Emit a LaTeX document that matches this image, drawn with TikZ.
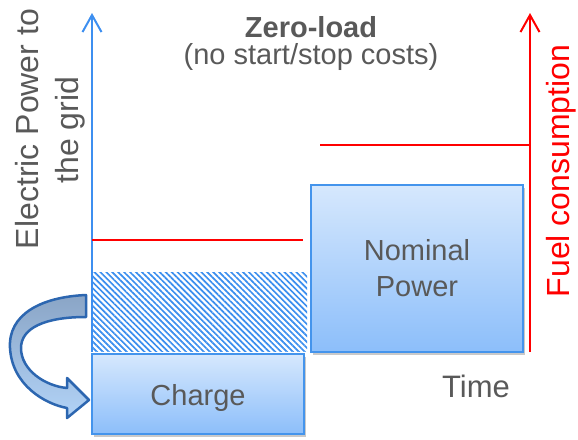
\documentclass[tikz,border=0pt]{standalone}
\usepackage{fontspec}
\setmainfont{Liberation Sans}
\usetikzlibrary{arrows.meta,patterns.meta,shadows}
\definecolor{axisblue}{HTML}{3D8FF0}
\definecolor{boxtop}{HTML}{D6E8FD}
\definecolor{boxbot}{HTML}{8CBEFA}
\definecolor{boxline}{HTML}{4494EC}
\definecolor{hatchblue}{HTML}{3B8EEE}
\definecolor{bendline}{HTML}{2C66B0}
\definecolor{bendtop}{HTML}{8AA5C6}
\definecolor{bendbot}{HTML}{B2D3F7}
\definecolor{labelgray}{HTML}{595959}
\definecolor{fuelred}{HTML}{FF0000}
\tikzset{
  axisline/.style={line width=2pt,-{Straight Barb[length=17pt,width=19pt,line width=2pt]}},
  levelline/.style={fuelred,line width=2pt},
  powerbox/.style={draw=boxline,line width=2pt,top color=boxtop,bottom color=boxbot,
    inner sep=0pt,align=center,text=labelgray,
    font=\fontsize{29}{36}\selectfont,
    drop shadow={shadow xshift=2pt,shadow yshift=-2.5pt,opacity=.3,fill=black!70}},
  bigtext/.style={text=labelgray,inner sep=0pt,font=\fontsize{#1}{#1}\selectfont},
  bigtext/.default=32
}
\begin{document}
\begin{tikzpicture}[x=1pt,y=-1pt]
\useasboundingbox (0,0) rectangle (578,439);

% axes
\coordinate (pbase) at (92,352);
\coordinate (ptop) at (92,13);
\coordinate (fbase) at (530,352);
\coordinate (ftop) at (530,13);
\draw[axisline,axisblue] (pbase) -- (ptop);
\draw[axisline,fuelred] (fbase) -- (ftop);

% fuel levels
\coordinate (lowA) at (92,240);
\coordinate (lowB) at (303,240);
\coordinate (highA) at (320,145);
\coordinate (highB) at (530,145);
\draw[levelline] (lowA) -- (lowB);
\draw[levelline] (highA) -- (highB);

% stored energy (hatched)
\fill[pattern={Lines[angle=-45,distance=4.2pt,line width=1.7pt]},pattern color=hatchblue]
  (93,272) rectangle (307,351);

% blocks
\node[powerbox,minimum width=212pt,minimum height=167pt] (nominal) at (417,268.5)
  {Nominal\\Power};
\node[powerbox,minimum width=212pt,minimum height=80pt,text height=25pt,text depth=3pt]
  (charge) at (198,394) {Charge};

% bent block arrow from the hatched area down to the charge block
\draw[bendline,line width=2.5pt,line join=round,top color=bendtop,bottom color=bendbot]
  (86,295) .. controls (40,297) and (8,315) .. (10,348)
  .. controls (12,385) and (45,404) .. (67,408)
  -- (67,418) -- (89,400) -- (67,378) -- (67,388)
  .. controls (45,386) and (21,370) .. (21,348)
  .. controls (21,328) and (45,317) .. (86,317) -- cycle;

% labels
\node[bigtext=29,font=\fontsize{29}{29}\selectfont\bfseries,anchor=base] (title) at (311,37) {Zero-load};
\node[bigtext=29,anchor=base] (subtitle) at (311,64) {(no start/stop costs)};
\node[bigtext,rotate=90,anchor=base] (ylabA) at (38,129) {Electric Power to};
\node[bigtext,rotate=90,anchor=base] (ylabB) at (78,130) {the grid};
\node[bigtext,text=fuelred,rotate=90,anchor=base] (fuel) at (569,171) {Fuel consumption};
\node[bigtext=31,anchor=base] (time) at (476,397) {Time};
\end{tikzpicture}
\end{document}
